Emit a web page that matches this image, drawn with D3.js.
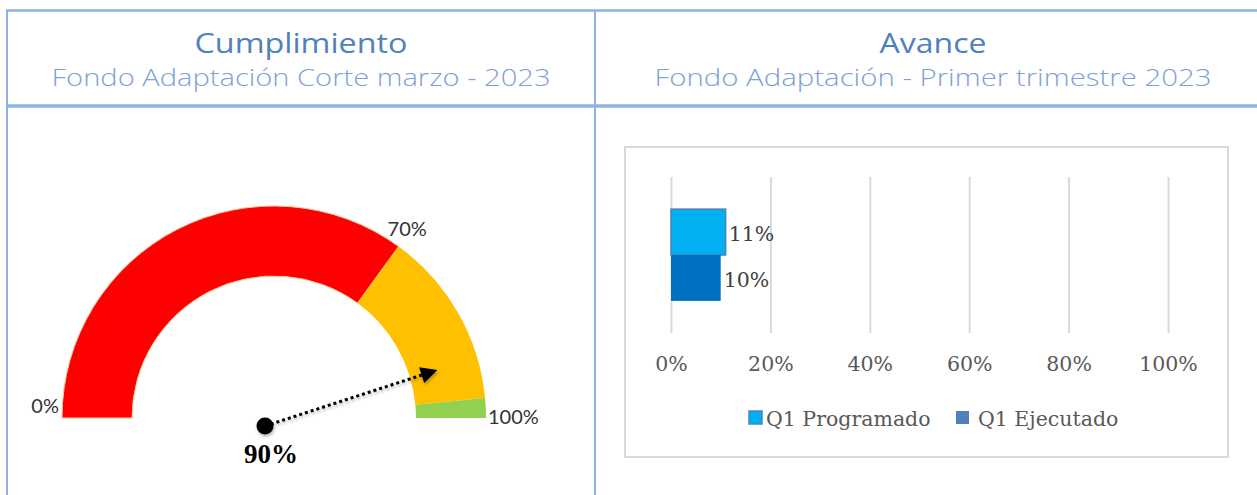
<!DOCTYPE html>
<html>
<head>
<meta charset="utf-8">
<script src="https://cdn.jsdelivr.net/npm/d3@7"></script>
<style>
  body { margin: 0; background: #fff; }
  svg { display: block; }
</style>
</head>
<body>
<div id="chart"></div>
<script>
// headers
var panelTitles = ["Cumplimiento", "Avance"];
var panelSubtitles = ["Fondo Adaptación Corte marzo - 2023", "Fondo Adaptación - Primer trimestre 2023"];

// gauge data
var gaugeBands = [0, 70, 97, 100];
var gaugeColors = ["#ff0000", "#ffc000", "#92d050"];
var gaugeLabels = ["0%", "70%", "100%"];
var gaugeValue = 90;

// bar chart data
var category = ["Q1"];
var seriesNames = ["Q1 Programado", "Q1 Ejecutado"];
var seriesValues = [0.11, 0.10];
var barColors = ["#00b0f0", "#0070c0"];
var legendColors = ["#00b0f0", "#4f81bd"];
var xTicks = [0, 0.2, 0.4, 0.6, 0.8, 1.0];

var width = 1257, height = 495;
var lineColor = "#8db3e2";

var svg = d3.select("#chart").append("svg")
    .attr("width", width)
    .attr("height", height);

var defs = svg.append("defs");
defs.append("marker")
    .attr("id", "arrow")
    .attr("viewBox", "0 0 10 10")
    .attr("refX", 2).attr("refY", 5)
    .attr("markerWidth", 6).attr("markerHeight", 5.5)
    .attr("markerUnits", "strokeWidth")
    .attr("orient", "auto")
  .append("path")
    .attr("d", "M0,0 L10,5 L0,10 Z")
    .attr("fill", "#000");
var shadow = defs.append("filter").attr("id", "shadow")
    .attr("x", "-20%").attr("y", "-50%").attr("width", "140%").attr("height", "200%");
shadow.append("feDropShadow")
    .attr("dx", 1).attr("dy", 2).attr("stdDeviation", 1.5)
    .attr("flood-color", "#000").attr("flood-opacity", 0.3);

// table frame
svg.append("line").attr("x1", 6).attr("x2", width).attr("y1", 10.5).attr("y2", 10.5)
    .attr("stroke", lineColor).attr("stroke-width", 2.5);
svg.append("line").attr("x1", 6).attr("x2", width).attr("y1", 106).attr("y2", 106)
    .attr("stroke", lineColor).attr("stroke-width", 3.5);
svg.append("line").attr("x1", 7).attr("x2", 7).attr("y1", 10).attr("y2", height)
    .attr("stroke", lineColor).attr("stroke-width", 2);
svg.append("line").attr("x1", 595).attr("x2", 595).attr("y1", 10).attr("y2", height)
    .attr("stroke", lineColor).attr("stroke-width", 2);

// header text (wide geometric face imitated by stretching)
var headerCenters = [301, 933];
var titleWidths = [213, 107];
var subWidths = [499, 557];
headerCenters.forEach(function (cx, i) {
  svg.append("text")
      .attr("x", cx).attr("y", 53)
      .attr("text-anchor", "middle")
      .attr("font-family", "'Open Sans', sans-serif")
      .attr("font-size", 27)
      .attr("textLength", titleWidths[i])
      .attr("lengthAdjust", "spacingAndGlyphs")
      .attr("fill", "#4f81bd")
      .text(panelTitles[i]);
  svg.append("text")
      .attr("x", cx).attr("y", 86)
      .attr("text-anchor", "middle")
      .attr("font-family", "'Open Sans', sans-serif")
      .attr("font-weight", 300)
      .attr("font-size", 23)
      .attr("textLength", subWidths[i])
      .attr("lengthAdjust", "spacingAndGlyphs")
      .attr("fill", "#7ea1d6")
      .text(panelSubtitles[i]);
});

// ---------- gauge ----------
var gcx = 274, gcy = 418, outerR = 212, innerR = 142;
var angle = d3.scaleLinear().domain([0, 100]).range([-Math.PI / 2, Math.PI / 2]);
var arc = d3.arc().innerRadius(innerR).outerRadius(outerR);

var gauge = svg.append("g").attr("transform", "translate(" + gcx + "," + gcy + ")");
gauge.selectAll("path.band")
    .data(gaugeColors)
    .enter().append("path")
    .attr("class", "band")
    .attr("d", function (c, i) {
      return arc({ startAngle: angle(gaugeBands[i]), endAngle: angle(gaugeBands[i + 1]) });
    })
    .attr("fill", function (c) { return c; })
    .attr("stroke", function (c, i) { return i === 0 ? "#f6c79a" : "none"; })
    .attr("stroke-width", 1);

var labelVals = [0, 70, 100];
var labelOffsets = [[-3, -5, "end"], [-11, -11, "start"], [2, 6, "start"]];
gauge.selectAll("text.glabel")
    .data(labelVals)
    .enter().append("text")
    .attr("class", "glabel")
    .attr("x", function (d, i) { return outerR * Math.sin(angle(d)) + labelOffsets[i][0]; })
    .attr("y", function (d, i) { return -outerR * Math.cos(angle(d)) + labelOffsets[i][1]; })
    .attr("text-anchor", function (d, i) { return labelOffsets[i][2]; })
    .attr("font-family", "Lato, sans-serif")
    .attr("font-size", 20)
    .attr("fill", "#333")
    .text(function (d, i) { return gaugeLabels[i]; });

// needle
var pivot = { x: -9, y: 8 }, needleLen = 168;
var needle = gauge.append("g").attr("filter", "url(#shadow)");
needle.append("line")
    .attr("x1", pivot.x).attr("y1", pivot.y)
    .attr("x2", pivot.x + needleLen * Math.sin(angle(gaugeValue)))
    .attr("y2", pivot.y - needleLen * Math.cos(angle(gaugeValue)))
    .attr("stroke", "#000")
    .attr("stroke-width", 3)
    .attr("stroke-dasharray", "3,3")
    .attr("marker-end", "url(#arrow)");
needle.append("circle")
    .attr("cx", pivot.x).attr("cy", pivot.y).attr("r", 8.5)
    .attr("fill", "#000");
gauge.append("text")
    .attr("x", pivot.x + 6).attr("y", pivot.y + 37)
    .attr("text-anchor", "middle")
    .attr("font-family", "'Liberation Serif', serif")
    .attr("font-weight", "bold")
    .attr("font-size", 27)
    .attr("fill", "#000")
    .text(gaugeValue + "%");

// ---------- bar chart ----------
var box = { x: 625, y: 147, w: 603, h: 310 };
svg.append("rect")
    .attr("x", box.x).attr("y", box.y).attr("width", box.w).attr("height", box.h)
    .attr("fill", "#fff").attr("stroke", "#d9d9d9").attr("stroke-width", 2);

var xScale = d3.scaleLinear().domain([0, 1]).range([671, 1168]);
var yCat = d3.scaleBand().domain(category).range([177, 333]).paddingOuter(0.35).paddingInner(0);
var ySeries = d3.scaleBand().domain(seriesNames).range([0, yCat.bandwidth()]);

var serif = "'DejaVu Serif', serif";
var serifSize = 20.5;

var xAxis = d3.axisBottom(xScale)
    .tickValues(xTicks)
    .tickSize(-(333 - 177))
    .tickFormat(d3.format(".0%"));
var xaxis = svg.append("g")
    .attr("transform", "translate(0,333)")
    .call(xAxis);
xaxis.select(".domain").remove();
xaxis.selectAll(".tick line").attr("stroke", "#d9d9d9").attr("stroke-width", 2);
xaxis.selectAll(".tick text")
    .attr("y", 31)
    .attr("dy", "0.32em")
    .attr("font-family", serif)
    .attr("font-size", serifSize)
    .attr("fill", "#595959");

var bars = svg.append("g");
bars.selectAll("rect")
    .data(seriesValues)
    .enter().append("rect")
    .attr("x", xScale(0))
    .attr("y", function (d, i) { return yCat("Q1") + ySeries(seriesNames[i]); })
    .attr("width", function (d) { return xScale(d) - xScale(0); })
    .attr("height", ySeries.bandwidth())
    .attr("fill", function (d, i) { return barColors[i]; })
    .attr("stroke", function (d, i) { return i === 0 ? "#4f81bd" : "none"; })
    .attr("stroke-width", 1.5);
bars.selectAll("text")
    .data(seriesValues)
    .enter().append("text")
    .attr("x", function (d) { return xScale(d) + 3; })
    .attr("y", function (d, i) { return yCat("Q1") + ySeries(seriesNames[i]) + ySeries.bandwidth() / 2 + 2; })
    .attr("dy", "0.35em")
    .attr("font-family", serif)
    .attr("font-size", serifSize)
    .attr("fill", "#404040")
    .text(function (d) { return d3.format(".0%")(d); });

// legend
var legendX = [749, 956];
var legend = svg.append("g");
seriesNames.forEach(function (name, i) {
  legend.append("rect")
      .attr("x", legendX[i]).attr("y", 411)
      .attr("width", 13).attr("height", 13)
      .attr("fill", legendColors[i])
      .attr("stroke", i === 0 ? "#4f81bd" : "none")
      .attr("stroke-width", 1.5);
  legend.append("text")
      .attr("x", legendX[i] + (i === 0 ? 17 : 22)).attr("y", 419)
      .attr("dy", "0.35em")
      .attr("font-family", serif)
      .attr("font-size", serifSize)
      .attr("fill", "#595959")
      .text(name);
});
</script>
</body>
</html>
